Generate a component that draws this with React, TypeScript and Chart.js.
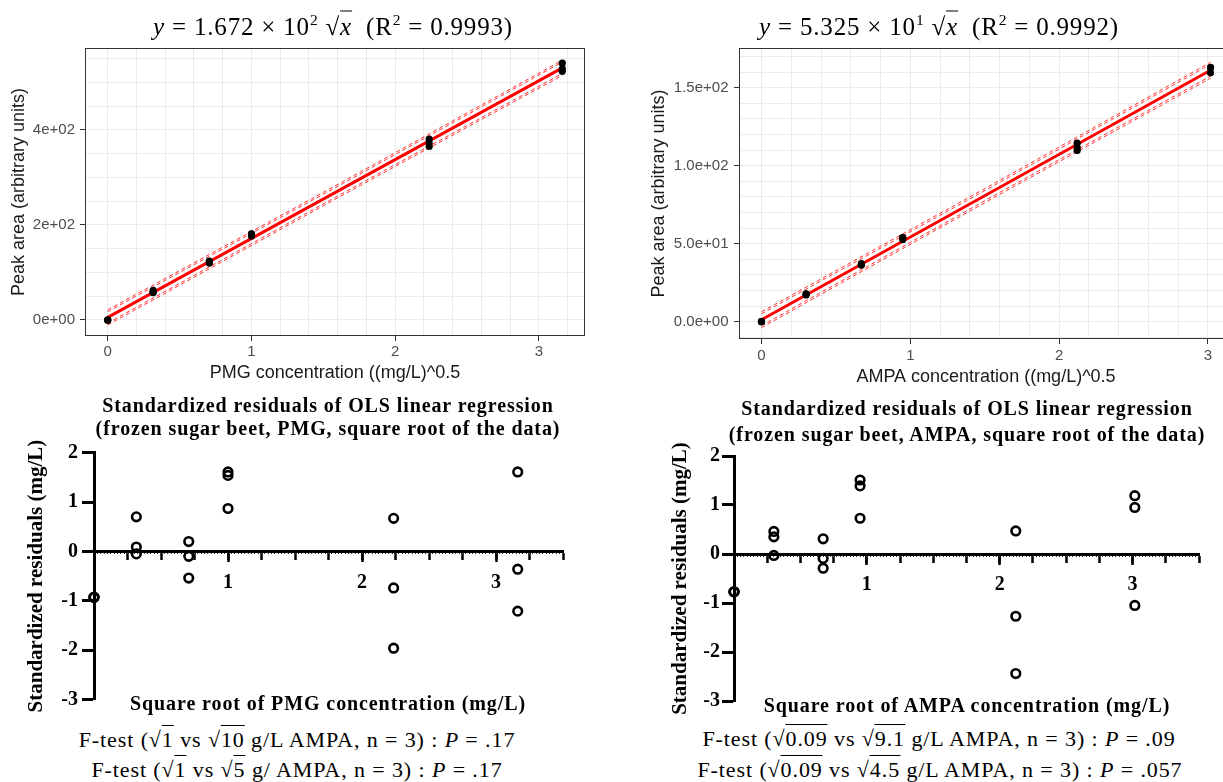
import React, { useEffect, useRef } from 'react';
import { Chart, registerables } from 'chart.js';

Chart.register(...registerables);

const SANS = "'Liberation Sans', Arial, sans-serif";
const SERIF = "'Liberation Serif', 'Times New Roman', serif";

// ---------- calibration data (top panels) ----------
const pmgSqrtConc = [0, 0.316, 0.707, 1, 2.236, 3.162];
const pmgAreaRep1 = [0, 62.1, 124.0, 181.1, 380.6, 540.0];
const pmgAreaRep2 = [0, 58.4, 122.2, 180.6, 372.2, 528.1];
const pmgAreaRep3 = [0, 57.6, 119.6, 176.6, 364.8, 523.0];
const pmgFitX = [0, 1.581, 3.162];
const pmgFitY = [5.4, 267.8, 530.3];
const pmgBandInnerUpper = [17.4, 277.8, 542.3];
const pmgBandOuterUpper = [21.4, 281.8, 546.3];
const pmgBandInnerLower = [-6.6, 257.8, 518.3];
const pmgBandOuterLower = [-10.6, 253.8, 514.3];

const ampaSqrtConc = [0, 0.3, 0.671, 0.949, 2.121, 3.017];
const ampaAreaRep1 = [0, 17.87, 37.24, 53.95, 114.41, 163.04];
const ampaAreaRep2 = [0, 17.71, 36.57, 53.76, 111.63, 162.67];
const ampaAreaRep3 = [0, 17.12, 36.31, 52.7, 109.74, 159.47];
const ampaFitX = [0, 1.5085, 3.017];
const ampaFitY = [1.25, 81.2, 161.15];
const ampaBandInnerUpper = [5.05, 84.4, 164.95];
const ampaBandOuterUpper = [6.35, 85.7, 166.25];
const ampaBandInnerLower = [-2.55, 78.0, 157.35];
const ampaBandOuterLower = [-3.85, 76.7, 156.05];

// ---------- standardized residuals (bottom panels) ----------
const pmgResidRep1 = [-0.93, 0.7, 0.2, 1.61, 0.67, 1.61];
const pmgResidRep2 = [-0.93, 0.09, -0.1, 1.54, -0.74, -0.36];
const pmgResidRep3 = [-0.93, -0.05, -0.54, 0.87, -1.96, -1.21];
const ampaResidRep1 = [-0.77, 0.46, 0.31, 1.51, 0.47, 1.19];
const ampaResidRep2 = [-0.77, 0.35, -0.09, 1.39, -1.27, 0.95];
const ampaResidRep3 = [-0.77, -0.03, -0.29, 0.73, -2.44, -1.05];

// ---------- tick labels ----------
const calibXLabels = [0, 1, 2, 3];
const pmgYLabels = [0, 200, 400];
const ampaYLabels = [0, 50, 100, 150];
const residXLabels = [1, 2, 3];
const residYLabels = [-3, -2, -1, 0, 1, 2];

const has = (arr: number[], v: number) => arr.some((a) => Math.abs(a - v) < 1e-6);
const pts = (xs: number[], ys: number[]) => xs.map((x, i) => ({ x, y: ys[i] }));
const expFmt = (v: number, d: number) =>
  v.toExponential(d).replace(/e([+-])(\d)$/, 'e$10$2');

const framePlugin = {
  id: 'frame',
  afterDraw(chart: any, _args: any, opts: any) {
    if (!opts || !opts.color) return;
    const { ctx, chartArea } = chart;
    const { left, top, right, bottom } = chartArea;
    ctx.save();
    ctx.strokeStyle = opts.color;
    ctx.lineWidth = 1;
    ctx.strokeRect(Math.round(left) + 0.5, Math.round(top) + 0.5, Math.round(right - left) - 1, Math.round(bottom - top) - 1);
    ctx.restore();
  },
};

function calibrationConfig(o: any): any {
  const band = (ys: number[]) => ({
    data: pts(o.fitX, ys),
    showLine: true,
    borderColor: 'rgba(255,0,0,0.8)',
    borderWidth: 1,
    borderDash: [4, 3],
    pointRadius: 0,
    fill: false,
  });
  const gridTick = (labels: number[]) => (c: any) =>
    c.tick && has(labels, c.tick.value) ? '#333333' : 'rgba(0,0,0,0)';
  return {
    type: 'scatter',
    data: {
      datasets: [
        {
          data: [...pts(o.x, o.reps[0]), ...pts(o.x, o.reps[1]), ...pts(o.x, o.reps[2])],
          backgroundColor: '#000',
          borderColor: '#000',
          borderWidth: 0,
          pointRadius: 3.6,
        },
        {
          data: pts(o.fitX, o.fitY),
          showLine: true,
          borderColor: '#ff0000',
          borderWidth: 3,
          pointRadius: 0,
        },
        band(o.bands[0]),
        band(o.bands[1]),
        band(o.bands[2]),
        band(o.bands[3]),
      ],
    },
    options: {
      animation: false,
      responsive: false,
      events: [],
      layout: { padding: { top: 48, right: o.padRight, bottom: 0, left: 0 } },
      elements: { line: { tension: 0 } },
      plugins: { legend: { display: false }, tooltip: { enabled: false }, frame: { color: '#333333' } },
      scales: {
        x: {
          type: 'linear',
          min: o.xMin,
          max: o.xMax,
          afterFit: (s: any) => {
            s.height = o.xAxisHeight;
          },
          ticks: {
            stepSize: 0.2,
            autoSkip: false,
            includeBounds: false,
            maxRotation: 0,
            padding: o.xTickPad,
            color: '#4d4d4d',
            font: { family: SANS, size: 15 },
            callback: (v: number) => (has(calibXLabels, v) ? String(Math.round(v)) : ''),
          },
          grid: { color: '#ebebeb', lineWidth: 1, tickLength: 5, tickWidth: 1, tickColor: gridTick(calibXLabels) },
          border: { display: false },
          title: {
            display: true,
            text: o.xTitle,
            color: '#1a1a1a',
            font: { family: SANS, size: 18 },
            padding: { top: 0, bottom: o.xTitlePad },
          },
        },
        y: {
          type: 'linear',
          min: o.yMin,
          max: o.yMax,
          afterFit: (s: any) => {
            s.width = o.yAxisWidth;
          },
          ticks: {
            stepSize: o.yStep,
            autoSkip: false,
            includeBounds: false,
            padding: o.yTickPad,
            color: '#4d4d4d',
            font: { family: SANS, size: 15 },
            callback: (v: number) => (has(o.yLabels, v) ? expFmt(v, o.yDigits) : ''),
          },
          grid: { color: '#ebebeb', lineWidth: 1, tickLength: 5, tickWidth: 1, tickColor: gridTick(o.yLabels) },
          border: { display: false },
          title: {
            display: true,
            text: 'Peak area (arbitrary units)',
            color: '#1a1a1a',
            font: { family: SANS, size: 18 },
            padding: { top: o.yTitlePad, bottom: 0 },
          },
        },
      },
    },
    plugins: [framePlugin],
  };
}

function residualConfig(o: any): any {
  const boldFont = { family: SERIF, size: 20, weight: 'bold' };
  return {
    type: 'scatter',
    data: {
      datasets: [
        {
          data: [...pts(o.x, o.reps[0]), ...pts(o.x, o.reps[1]), ...pts(o.x, o.reps[2])],
          backgroundColor: 'rgba(0,0,0,0)',
          borderColor: '#000',
          borderWidth: 2.6,
          pointRadius: 4.3,
          clip: false,
        },
      ],
    },
    options: {
      animation: false,
      responsive: false,
      events: [],
      layout: { padding: { top: o.padTop, right: o.padRight, bottom: o.padBottom, left: 0 } },
      plugins: { legend: { display: false }, tooltip: { enabled: false } },
      scales: {
        x: {
          type: 'linear',
          position: { y: 0 },
          min: 0,
          max: 3.5,
          ticks: { stepSize: 0.25, display: false, autoSkip: false, includeBounds: false },
          grid: { drawOnChartArea: false, tickLength: 7, tickWidth: 2.5, tickColor: '#000' },
          border: { display: true, width: 3, color: '#000' },
        },
        xMajor: {
          type: 'linear',
          axis: 'x',
          position: { y: 0 },
          min: 0,
          max: 3.5,
          ticks: {
            stepSize: 1,
            autoSkip: false,
            includeBounds: false,
            maxRotation: 0,
            padding: 8,
            color: '#000',
            font: boldFont,
            callback: (v: number) => (has(residXLabels, v) ? String(Math.round(v)) : ''),
          },
          grid: { drawOnChartArea: false, tickLength: 11, tickWidth: 2.5, tickColor: '#000' },
          border: { display: false },
        },
        xMinor: {
          type: 'linear',
          axis: 'x',
          position: { y: 0 },
          min: 0,
          max: 3.5,
          ticks: { stepSize: 0.025, display: false, autoSkip: false, includeBounds: false },
          grid: { drawOnChartArea: false, tickLength: 3, tickWidth: 1, tickColor: '#333' },
          border: { display: false },
        },
        y: {
          type: 'linear',
          position: 'left',
          min: -3,
          max: 2,
          afterFit: (s: any) => {
            s.width = o.yAxisWidth;
          },
          ticks: {
            stepSize: 1,
            autoSkip: false,
            padding: o.yTickPad,
            color: '#000',
            font: boldFont,
            callback: (v: number) => (has(residYLabels, v) ? String(Math.round(v)) : ''),
          },
          grid: { drawOnChartArea: false, tickLength: 12, tickWidth: 3, tickColor: '#000' },
          border: { display: true, width: 3, color: '#000' },
          title: {
            display: true,
            text: 'Standardized residuals (mg/L)',
            color: '#000',
            font: { family: SERIF, size: 21, weight: 'bold' },
            padding: { top: o.yTitlePad, bottom: 0 },
          },
        },
      },
    },
  };
}

function ChartCanvas({ make, left, top, width, height }: any) {
  const ref = useRef<HTMLCanvasElement>(null);
  useEffect(() => {
    const chart = new Chart(ref.current as HTMLCanvasElement, make());
    return () => chart.destroy();
  }, []);
  return (
    <canvas
      ref={ref}
      width={width}
      height={height}
      style={{ position: 'absolute', left, top, width, height }}
    />
  );
}

function Text({ x, y, style, children }: any) {
  return (
    <div
      style={{
        position: 'absolute',
        left: x,
        top: y,
        transform: 'translate(-50%, -50%)',
        whiteSpace: 'nowrap',
        lineHeight: 1,
        color: '#000',
        ...style,
      }}
    >
      {children}
    </div>
  );
}

const sup = { fontSize: '0.62em', verticalAlign: '0.62em', lineHeight: 0 };
const ol = { borderTop: '1.5px solid #000', paddingTop: 1 };
const mathTitle = { fontFamily: SERIF, fontSize: 25, letterSpacing: 0.8 };
const boldTitle = { fontFamily: SERIF, fontSize: 20, fontWeight: 'bold', letterSpacing: 0.9 };
const ftest = { fontFamily: SERIF, fontSize: 22, letterSpacing: 0.9 };

export default function App() {
  return (
    <div
      style={{
        position: 'fixed',
        left: 0,
        top: 0,
        width: 1223,
        height: 782,
        overflow: 'hidden',
        background: '#fff',
      }}
    >
      <ChartCanvas
        left={0}
        top={0}
        width={600}
        height={390}
        make={() =>
          calibrationConfig({
            x: pmgSqrtConc,
            reps: [pmgAreaRep1, pmgAreaRep2, pmgAreaRep3],
            fitX: pmgFitX,
            fitY: pmgFitY,
            bands: [pmgBandInnerUpper, pmgBandOuterUpper, pmgBandInnerLower, pmgBandOuterLower],
            xMin: -0.158,
            xMax: 3.32,
            yMin: -33.7,
            yMax: 572,
            yStep: 50,
            yLabels: pmgYLabels,
            yDigits: 0,
            xTitle: 'PMG concentration ((mg/L)^0.5',
            padRight: 15,
            xAxisHeight: 54,
            yAxisWidth: 85,
            xTickPad: 2,
            yTickPad: 5,
            xTitlePad: 6,
            yTitlePad: 8.6,
          })
        }
      />
      <ChartCanvas
        left={612}
        top={0}
        width={640}
        height={390}
        make={() =>
          calibrationConfig({
            x: ampaSqrtConc,
            reps: [ampaAreaRep1, ampaAreaRep2, ampaAreaRep3],
            fitX: ampaFitX,
            fitY: ampaFitY,
            bands: [ampaBandInnerUpper, ampaBandOuterUpper, ampaBandInnerLower, ampaBandOuterLower],
            xMin: -0.151,
            xMax: 3.168,
            yMin: -11.1,
            yMax: 175.4,
            yStep: 10,
            yLabels: ampaYLabels,
            yDigits: 1,
            xTitle: 'AMPA concentration ((mg/L)^0.5',
            padRight: 19,
            xAxisHeight: 51,
            yAxisWidth: 127,
            xTickPad: 3,
            yTickPad: 5.5,
            xTitlePad: 2.5,
            yTitlePad: 35.8,
          })
        }
      />
      <ChartCanvas
        left={0}
        top={390}
        width={600}
        height={330}
        make={() =>
          residualConfig({
            x: pmgSqrtConc,
            reps: [pmgResidRep1, pmgResidRep2, pmgResidRep3],
            padTop: 62.7,
            padBottom: 20.5,
            padRight: 37,
            yAxisWidth: 94,
            yTickPad: 4,
            yTitlePad: 24.4,
          })
        }
      />
      <ChartCanvas
        left={612}
        top={390}
        width={611}
        height={330}
        make={() =>
          residualConfig({
            x: ampaSqrtConc,
            reps: [ampaResidRep1, ampaResidRep2, ampaResidRep3],
            padTop: 66,
            padBottom: 19,
            padRight: 24,
            yAxisWidth: 122,
            yTickPad: 2,
            yTitlePad: 56.4,
          })
        }
      />

      <Text x={333} y={26} style={mathTitle}>
        <i>y</i> = 1.672 × 10<sup style={sup}>2</sup> √<span style={ol}><i>x</i></span>
        {'\u00a0\u00a0'}(R<sup style={sup}>2</sup> = 0.9993)
      </Text>
      <Text x={939} y={26} style={mathTitle}>
        <i>y</i> = 5.325 × 10<sup style={sup}>1</sup> √<span style={ol}><i>x</i></span>
        {'\u00a0\u00a0'}(R<sup style={sup}>2</sup> = 0.9992)
      </Text>

      <Text x={328} y={405} style={boldTitle}>Standardized residuals of OLS linear regression</Text>
      <Text x={328} y={428} style={boldTitle}>(frozen sugar beet, PMG, square root of the data)</Text>
      <Text x={967} y={408} style={boldTitle}>Standardized residuals of OLS linear regression</Text>
      <Text x={967} y={434} style={boldTitle}>(frozen sugar beet, AMPA, square root of the data)</Text>

      <Text x={328} y={703} style={boldTitle}>Square root of PMG concentration (mg/L)</Text>
      <Text x={967} y={705} style={boldTitle}>Square root of AMPA concentration (mg/L)</Text>

      <Text x={297} y={740} style={ftest}>
        F-test (√<span style={ol}>1</span> vs √<span style={ol}>10</span> g/L AMPA, n = 3) : <i>P</i> = .17
      </Text>
      <Text x={297} y={770} style={ftest}>
        F-test (√<span style={ol}>1</span> vs √<span style={ol}>5</span> g/ AMPA, n = 3) : <i>P</i> = .17
      </Text>
      <Text x={939} y={739} style={ftest}>
        F-test (√<span style={ol}>0.09</span> vs √<span style={ol}>9.1</span> g/L AMPA, n = 3) : <i>P</i> = .09
      </Text>
      <Text x={940} y={770} style={ftest}>
        F-test (√<span style={ol}>0.09</span> vs √<span style={ol}>4.5</span> g/L AMPA, n = 3) : <i>P</i> = .057
      </Text>
    </div>
  );
}
